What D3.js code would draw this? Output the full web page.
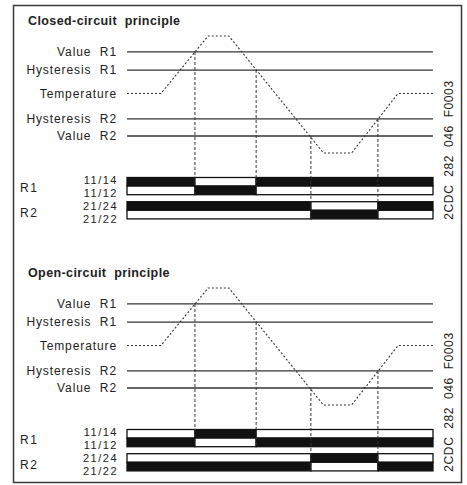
<!DOCTYPE html>
<html>
<head>
<meta charset="utf-8">
<script src="https://cdn.jsdelivr.net/npm/d3@7"></script>
<style>
  body { margin: 0; background: #fff; }
  svg { display: block; }
  text { font-family: "Liberation Sans", Arial, sans-serif; fill: #222; }
</style>
</head>
<body>
<svg id="chart"></svg>
<script>
// diagram data
const principles = ["Closed-circuit  principle", "Open-circuit  principle"];
const levelLabels = ["Value  R1", "Hysteresis  R1", "Temperature", "Hysteresis  R2", "Value  R2"];
const levelValues = [82.5, 74, 63, 51, 43];
const tempTimes = [0, 11.1, 26.5, 33.3, 64.2, 73.4, 88.6, 100];
const tempValues = [63, 63, 90, 90, 35, 35, 63, 63];
// switching instants: R1 off, R1 on, R2 off, R2 on
const switchTimes = [22.2, 42.2, 60.1, 82.0];
const switchLevels = [82.5, 74, 43, 51];
const switchRelay = ["R1", "R1", "R2", "R2"];
const relays = ["R1", "R2"];
const contacts = [["11/14", "11/12"], ["21/24", "21/22"]];
const r1Bounds = [0, 22.2, 42.2, 100];
const r2Bounds = [0, 60.1, 82.0, 100];
// coil energized per segment: closed-circuit, open-circuit
const r1Energized = [[1, 0, 1], [0, 1, 0]];
const r2Energized = [[1, 0, 1], [0, 1, 0]];
const docCode = "2CDC  282  046  F0003";

const W = 467, H = 485;
const panelStep = 252;

const svg = d3.select("#chart").attr("width", W).attr("height", H);

svg.append("rect")
    .attr("x", 13.5).attr("y", 5.5)
    .attr("width", 448).attr("height", 477)
    .attr("fill", "none")
    .attr("stroke", "#3a3a3a")
    .attr("stroke-width", 1.5);

const x = d3.scaleLinear().domain([0, 100]).range([127, 433]);
const y = d3.scaleLinear().domain([35, 90]).range([153, 36]);

const barTop = { R1: 177.5, R2: 201.7 };
const rowH = 8.6;
const labelY = [[179.8, 192.8], [206.3, 219.3]];
const relayLabelY = [188, 213];

const tempLine = d3.line()
    .x((d, i) => x(tempTimes[i]))
    .y(d => y(d));

principles.forEach((title, p) => {
    const g = svg.append("g")
        .attr("transform", "translate(0," + (p * panelStep) + ")");

    g.append("text")
        .attr("x", 28).attr("y", 25)
        .attr("font-size", 12.5)
        .attr("font-weight", "bold")
        .attr("letter-spacing", 0.4)
        .style("white-space", "pre")
        .text(title);

    // threshold lines and labels
    levelLabels.forEach((lab, i) => {
        g.append("text")
            .attr("x", 117).attr("y", y(levelValues[i]) + 4.2)
            .attr("text-anchor", "end")
            .attr("font-size", 12)
            .attr("letter-spacing", 0.9)
            .style("white-space", "pre")
            .text(lab);
        if (lab !== "Temperature") {
            g.append("line")
                .attr("x1", x(0)).attr("x2", x(100))
                .attr("y1", y(levelValues[i])).attr("y2", y(levelValues[i]))
                .attr("stroke", "#333")
                .attr("stroke-width", 1.3);
        }
    });

    g.append("path")
        .datum(tempValues)
        .attr("d", tempLine)
        .attr("fill", "none")
        .attr("stroke", "#333")
        .attr("stroke-width", 1.1)
        .attr("stroke-dasharray", "2,2");

    // relay contact bars
    relays.forEach((r, ri) => {
        const bounds = ri === 0 ? r1Bounds : r2Bounds;
        const state = ri === 0 ? r1Energized[p] : r2Energized[p];
        contacts[ri].forEach((c, ci) => {
            const top = barTop[r] + ci * rowH;
            state.forEach((s, k) => {
                // NO contact (x4) dark while energized, NC contact (x2) dark otherwise
                const closed = ci === 0 ? s : 1 - s;
                g.append("rect")
                    .attr("x", x(bounds[k])).attr("y", top)
                    .attr("width", x(bounds[k + 1]) - x(bounds[k]))
                    .attr("height", rowH)
                    .attr("fill", closed ? "#111" : "#fff")
                    .attr("stroke", "#111")
                    .attr("stroke-width", 1.3);
            });
            g.append("text")
                .attr("x", 118).attr("y", labelY[ri][ci] + 3.9)
                .attr("text-anchor", "end")
                .attr("font-size", 11)
                .attr("letter-spacing", 1.5)
                .text(c);
        });
        g.append("text")
            .attr("x", 20).attr("y", relayLabelY[ri] + 4.2)
            .attr("font-size", 12)
            .attr("letter-spacing", 1.5)
            .text(r);
    });

    // dashed switching lines
    switchTimes.forEach((t, i) => {
        const r = switchRelay[i];
        g.append("line")
            .attr("x1", x(t)).attr("x2", x(t))
            .attr("y1", y(switchLevels[i]))
            .attr("y2", barTop[r] + 2 * rowH)
            .attr("stroke", "#333")
            .attr("stroke-width", 1)
            .attr("stroke-dasharray", "3,2");
    });

    g.append("text")
        .attr("transform", "translate(453,150) rotate(-90)")
        .attr("text-anchor", "middle")
        .attr("font-size", 12)
        .attr("letter-spacing", 0.6)
        .style("white-space", "pre")
        .text(docCode);
});
</script>
</body>
</html>
